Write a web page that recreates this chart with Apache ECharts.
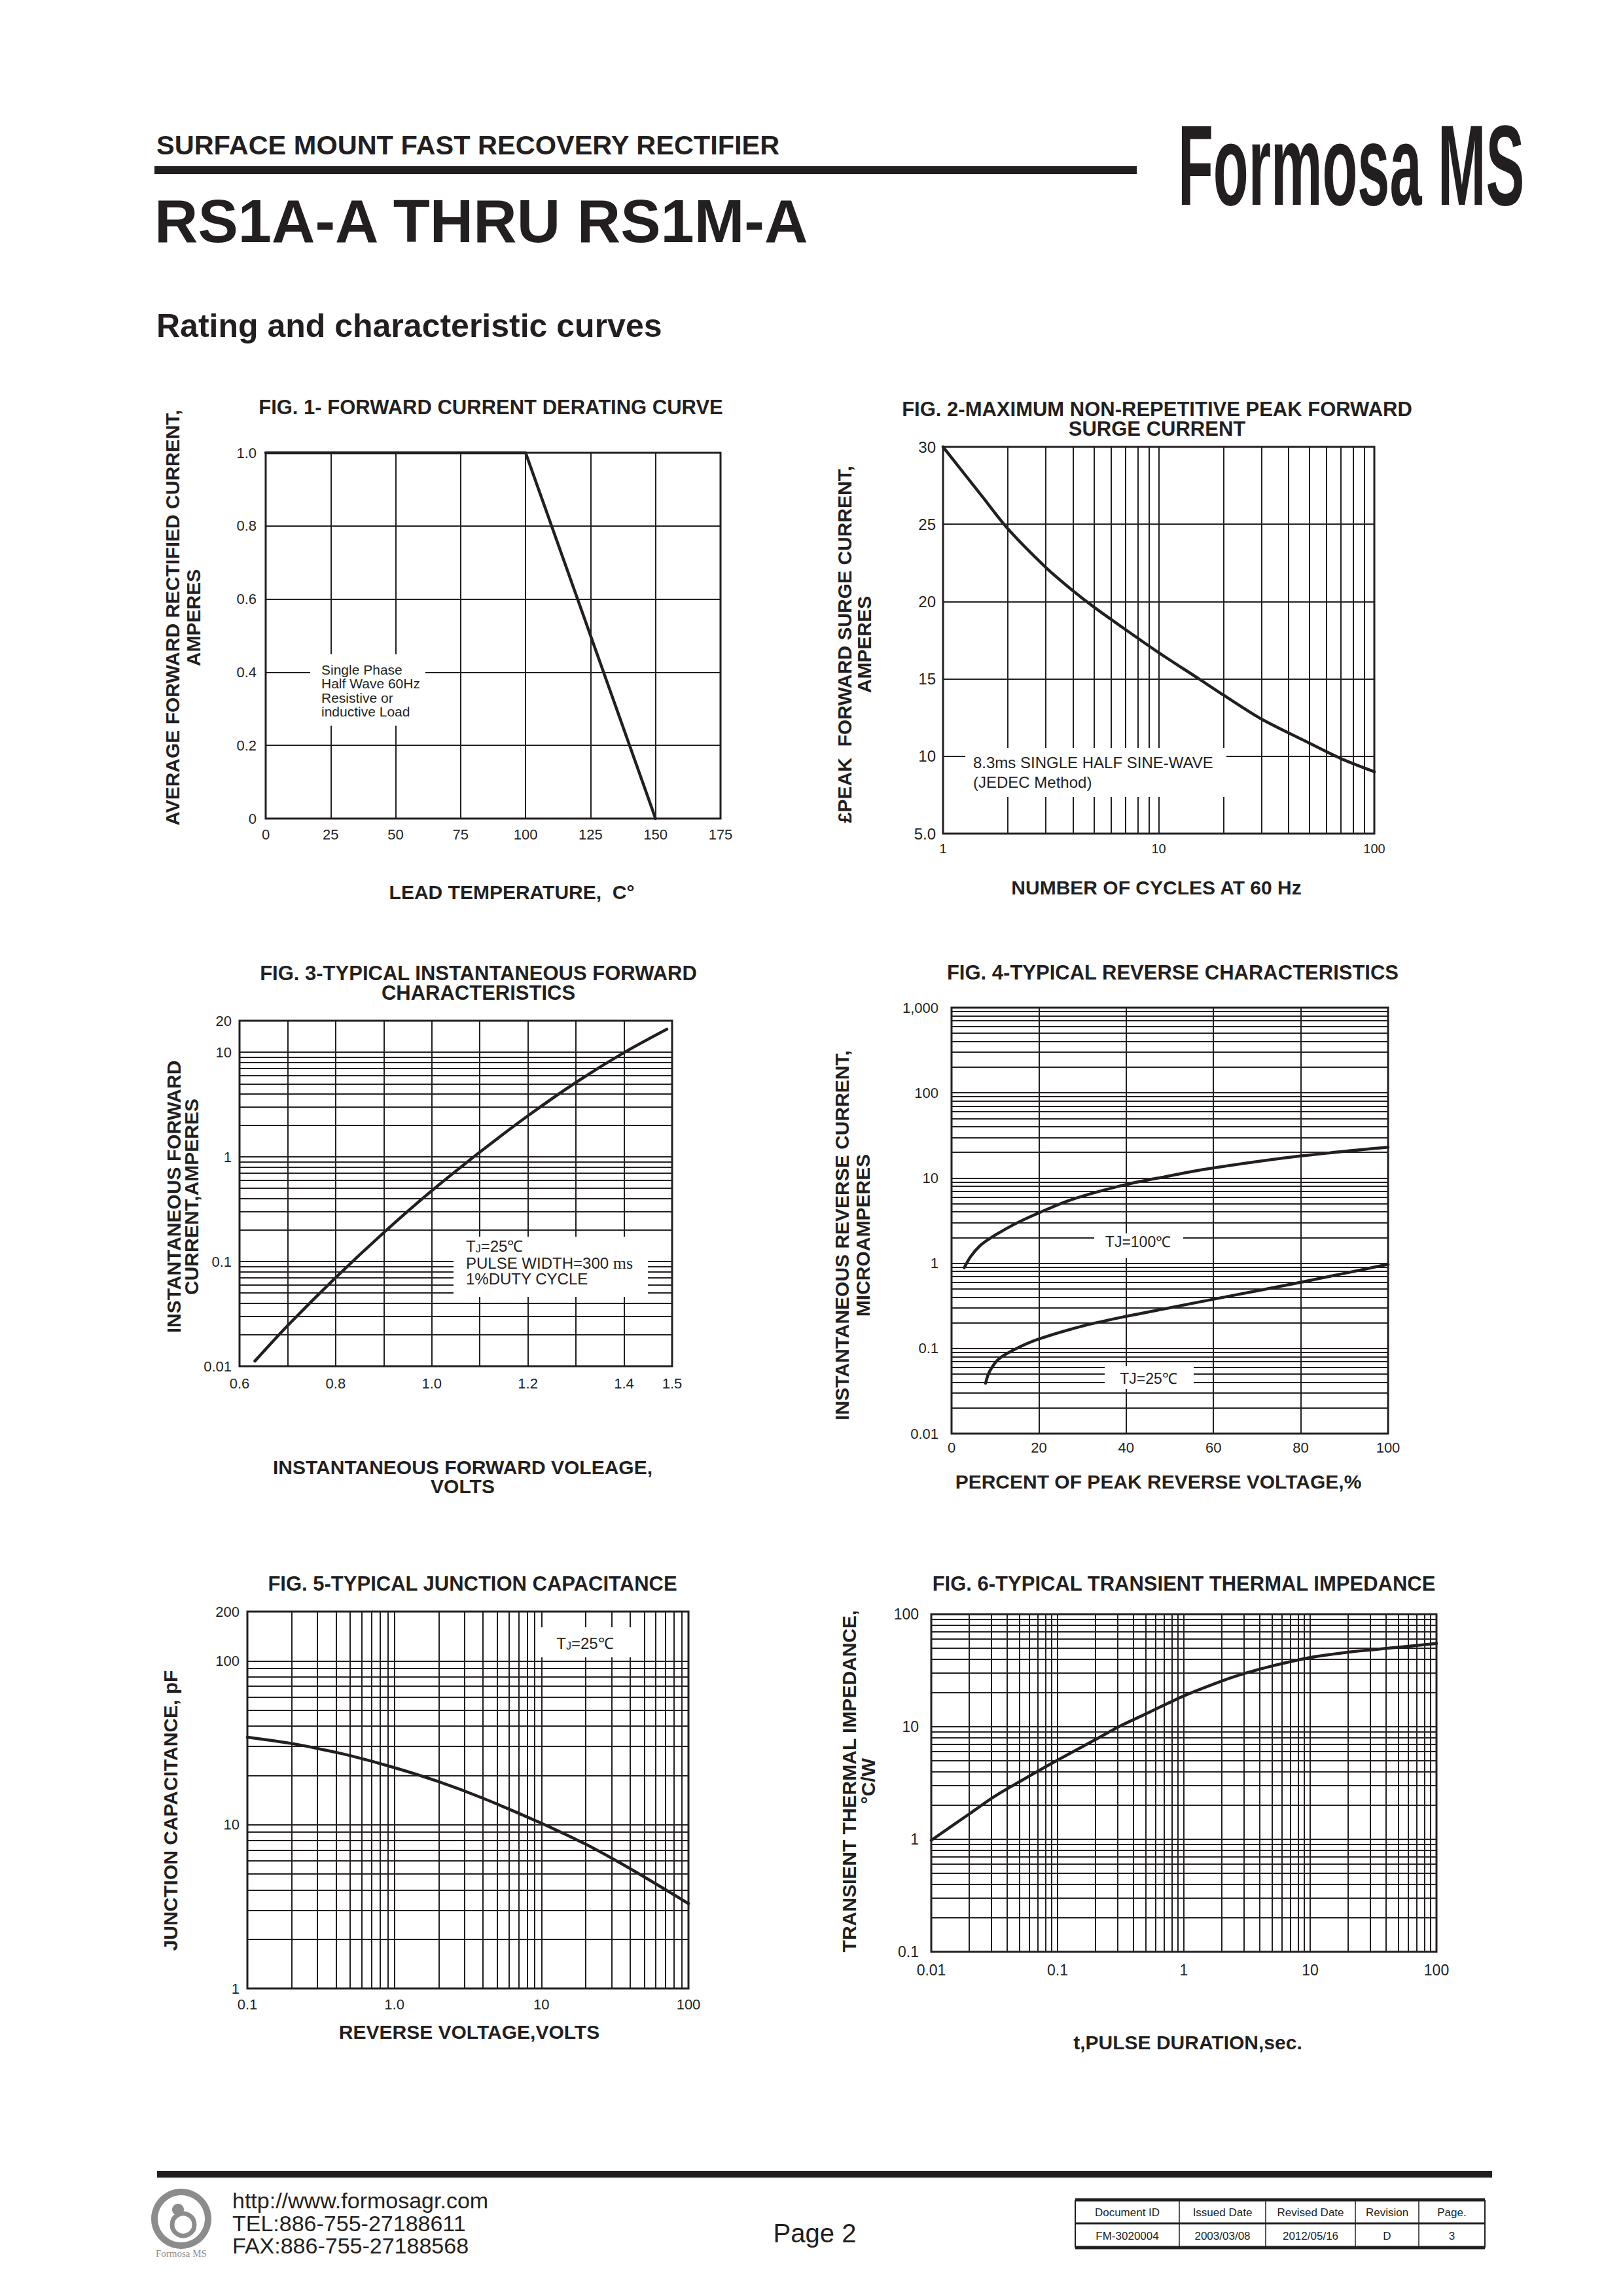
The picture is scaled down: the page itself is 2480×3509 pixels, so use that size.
<!DOCTYPE html>
<html>
<head>
<meta charset="utf-8">
<title>RS1A-A THRU RS1M-A - Rating and characteristic curves</title>
<script src="https://cdn.jsdelivr.net/npm/echarts@6/dist/echarts.min.js"></script>
<style>
html,body{margin:0;padding:0;background:#ffffff;}
#page{width:2480px;height:3509px;}
</style>
</head>
<body>
<div id="page"></div>
<script>
// ---------------- DATA ----------------
// FIG.1 Forward current derating curve
const fig1Temp    = [0, 100, 150];
const fig1Current = [1.0, 1.0, 0.0];
const fig1XTicks  = [0, 25, 50, 75, 100, 125, 150, 175];
const fig1YTicks  = ['0', '0.2', '0.4', '0.6', '0.8', '1.0'];

// FIG.2 Max non-repetitive peak forward surge current
const fig2Cycles = [1, 1.5, 2, 3, 4, 5, 7, 10, 15, 20, 30, 50, 70, 100];
const fig2Surge  = [30, 26.9, 24.7, 22.2, 20.7, 19.65, 18.2, 16.7, 15.1, 13.95, 12.4, 10.85, 9.85, 9.0];
const fig2YTicks = ['5.0', '10', '15', '20', '25', '30'];

// FIG.3 Typical instantaneous forward characteristics
const fig3Volts = [0.632, 0.70, 0.80, 0.90, 1.00, 1.10, 1.20, 1.30, 1.40, 1.489];
const fig3Amps  = [0.0112, 0.0244, 0.0703, 0.189, 0.475, 1.11, 2.47, 5.15, 9.93, 16.6];
const fig3XLabels = ['0.6', '0.8', '1.0', '1.2', '1.4', '1.5'];

// FIG.4 Typical reverse characteristics
const fig4Pct100 = [2.9, 4.4, 6.5, 9.1, 14.3, 19.8, 27.4, 39.6, 49.1, 59, 78.9, 100];
const fig4Ir100  = [0.885, 1.2, 1.6, 2.0, 2.85, 3.86, 5.56, 8.3, 10.4, 12.9, 17.9, 23];
const fig4Pct25  = [7.8, 8.7, 10.9, 15, 20, 30, 40, 50, 60, 70, 80, 100];
const fig4Ir25   = [0.039, 0.0535, 0.0757, 0.1005, 0.129, 0.183, 0.238, 0.30, 0.378, 0.475, 0.598, 0.97];

// FIG.5 Typical junction capacitance
const fig5Volts = [0.1, 0.2, 0.3, 0.5, 1, 2, 4, 10, 20, 30, 50, 100];
const fig5Cap   = [34.2, 31.3, 29.2, 26.4, 22.3, 18.3, 14.5, 10.2, 7.6, 6.25, 4.8, 3.3];
const fig5XLabels = ['0.1', '1.0', '10', '100'];

// FIG.6 Typical transient thermal impedance
const fig6Time = [0.01, 0.02, 0.0316, 0.05, 0.1, 0.2, 0.316, 0.5, 1, 2, 3.16, 5, 10, 20, 31.6, 50, 100];
const fig6Z    = [0.98, 1.68, 2.4, 3.25, 5.05, 7.7, 10.2, 13.0, 18.8, 25.5, 30.2, 34.7, 41.2, 46.0, 48.4, 50.9, 55.0];

// ---------------- STYLE ----------------
const INK = '#231f20';
const FONT = "'Liberation Sans', Arial, Helvetica, sans-serif";
const SERIF = "'Liberation Serif', 'Times New Roman', serif";

// log-paper minor grid positions (2..9 x 10^e)
function minorLog(e0, e1) {
  const out = [];
  for (let e = e0; e < e1; e++) for (let m = 2; m <= 9; m++) out.push(+(m * Math.pow(10, e)).toPrecision(6));
  return out;
}

const gridRects = [
  {left: 406,  top: 692,  width: 695, height: 559},
  {left: 1441, top: 683,  width: 659, height: 591},
  {left: 366,  top: 1560, width: 661, height: 528},
  {left: 1454, top: 1540, width: 667, height: 651},
  {left: 378,  top: 2463, width: 674, height: 576},
  {left: 1423, top: 2467, width: 772, height: 516}
];

function axis(o) {
  const a = {
    gridIndex: o.g, type: o.type || 'value', min: o.min, max: o.max,
    axisLine: {show: false}, axisTick: {show: false},
    splitLine: {show: true, lineStyle: {color: INK, width: 2, type: 'solid'}},
    minorTick: {show: false}, minorSplitLine: {show: false},
    axisLabel: {show: true, color: INK, fontFamily: FONT, fontSize: o.fs || 22, margin: o.margin,
                showMinLabel: true, showMaxLabel: true, interval: 0}
  };
  if (o.type === 'log') a.logBase = 10;
  if (o.interval != null) a.interval = o.interval;
  if (o.fmt) a.axisLabel.formatter = o.fmt;
  return a;
}

function gridLines(xs, ys) {
  return {
    silent: true, symbol: ['none', 'none'], animation: false,
    label: {show: false}, emphasis: {disabled: true},
    lineStyle: {color: INK, width: 2, type: 'solid', opacity: 1},
    data: xs.map(v => ({xAxis: v})).concat(ys.map(v => ({yAxis: v})))
  };
}

function curve(g, xs, ys, smooth, ml) {
  const s = {
    type: 'line', xAxisIndex: g, yAxisIndex: g,
    data: xs.map((x, i) => [x, ys[i]]),
    symbol: 'none', showSymbol: false, smooth: smooth,
    clip: false, silent: true, z: 5,
    lineStyle: {color: INK, width: 4.5, cap: 'round', join: 'round'}
  };
  if (ml) s.markLine = ml;
  return s;
}

// ---------------- GRAPHIC TEXT / SHAPES ----------------
const G = [];
function T(x, y, text, o) {
  o = o || {};
  const st = {text: text, fill: o.fill || INK, fontFamily: o.ff || FONT, fontSize: o.fs || 30,
              fontWeight: o.fw || 'normal', align: o.align || 'left', verticalAlign: 'middle'};
  if (o.lh) st.lineHeight = o.lh;
  if (o.rich) st.rich = o.rich;
  const el = {type: 'text', x: x, y: y, z: 101, silent: true, style: st};
  if (o.rot) el.rotation = o.rot;
  if (o.sx) el.scaleX = o.sx;
  G.push(el);
}
function R(x, y, w, h, fill, o) {
  o = o || {};
  const st = {fill: fill};
  if (o.stroke) { st.stroke = o.stroke; st.lineWidth = o.lw || 1; }
  G.push({type: 'rect', z: o.z || 100, silent: true, shape: {x: x, y: y, width: w, height: h}, style: st});
}
function L(x1, y1, x2, y2, w) {
  G.push({type: 'line', z: 102, silent: true, shape: {x1: x1, y1: y1, x2: x2, y2: y2}, style: {stroke: INK, lineWidth: w}});
}
const ROT = Math.PI / 2;
const tjRich = function (fs) {
  return {
    a: {fontSize: fs, fontFamily: FONT, fill: INK, verticalAlign: 'bottom'},
    b: {fontSize: Math.round(fs * 0.66), fontFamily: FONT, fill: INK, verticalAlign: 'bottom'}
  };
};

// Header
T(239, 221, 'SURFACE MOUNT FAST RECOVERY RECTIFIER', {fs: 41.5, fw: 'bold'});
R(236, 254, 1501, 12, INK);
T(236, 338, 'RS1A-A THRU RS1M-A', {fs: 92, fw: 'bold'});
T(1800, 252, 'Formosa MS', {fs: 175, fw: 'bold', sx: 0.504});
T(239, 498, 'Rating and characteristic curves', {fs: 50, fw: 'bold'});

// Figure titles
T(750, 622, 'FIG. 1- FORWARD CURRENT DERATING CURVE', {fs: 31, fw: 'bold', align: 'center'});
T(1768, 640, 'FIG. 2-MAXIMUM NON-REPETITIVE PEAK FORWARD\nSURGE CURRENT', {fs: 31, fw: 'bold', align: 'center', lh: 30});
T(731, 1502, 'FIG. 3-TYPICAL INSTANTANEOUS FORWARD\nCHARACTERISTICS', {fs: 31, fw: 'bold', align: 'center', lh: 30});
T(1792, 1486, 'FIG. 4-TYPICAL REVERSE CHARACTERISTICS', {fs: 31, fw: 'bold', align: 'center'});
T(722, 2420, 'FIG. 5-TYPICAL JUNCTION CAPACITANCE', {fs: 31, fw: 'bold', align: 'center'});
T(1809, 2420, 'FIG. 6-TYPICAL TRANSIENT THERMAL IMPEDANCE', {fs: 31, fw: 'bold', align: 'center'});

// X axis names
T(782, 1363, 'LEAD TEMPERATURE,  C\u00b0', {fs: 30, fw: 'bold', align: 'center'});
T(1767, 1356, 'NUMBER OF CYCLES AT 60 Hz', {fs: 30, fw: 'bold', align: 'center'});
T(707, 2257, 'INSTANTANEOUS FORWARD VOLEAGE,\nVOLTS', {fs: 30, fw: 'bold', align: 'center', lh: 29});
T(1770, 2264, 'PERCENT OF PEAK REVERSE VOLTAGE,%', {fs: 30, fw: 'bold', align: 'center'});
T(717, 3105, 'REVERSE VOLTAGE,VOLTS', {fs: 30, fw: 'bold', align: 'center'});
T(1815, 3121, 't,PULSE DURATION,sec.', {fs: 30, fw: 'bold', align: 'center'});

// Y axis names (rotated)
T(279, 944, 'AVERAGE FORWARD RECTIFIED CURRENT,\nAMPERES', {fs: 30, fw: 'bold', align: 'center', lh: 32, rot: ROT});
T(1305, 985, '\u00a3PEAK  FORWARD SURGE CURRENT,\nAMPERES', {fs: 30, fw: 'bold', align: 'center', lh: 30, rot: ROT});
T(279, 1829, 'INSTANTANEOUS FORWARD\nCURRENT,AMPERES', {fs: 30, fw: 'bold', align: 'center', lh: 27, rot: ROT});
T(1302, 1888, 'INSTANTANEOUS REVERSE CURRENT,\nMICROAMPERES', {fs: 30, fw: 'bold', align: 'center', lh: 32, rot: ROT});
T(260, 2767, 'JUNCTION CAPACITANCE, pF', {fs: 30, fw: 'bold', align: 'center', rot: ROT});
T(1312, 2722, 'TRANSIENT THERMAL IMPEDANCE,\n\u00b0C/W', {fs: 30, fw: 'bold', align: 'center', lh: 29, rot: ROT});

// Annotations (white boxes masking the grid)
R(474, 1000, 176, 109, '#ffffff');
T(491, 1023, 'Single Phase', {fs: 21});
T(491, 1044, 'Half Wave 60Hz', {fs: 21});
T(491, 1066, 'Resistive or', {fs: 21});
T(491, 1087, 'inductive Load', {fs: 21});

R(1475, 1143, 399, 75, '#ffffff');
T(1487, 1165, '8.3ms SINGLE HALF SINE-WAVE', {fs: 24});
T(1487, 1195, '(JEDEC Method)', {fs: 24});

R(693, 1890, 297, 92, '#ffffff');
T(712, 1904, '{a|T}{b|J}{a|=25\u2103}', {fs: 24, rich: tjRich(24)});
T(712, 1930, '{a|PULSE WIDTH=300 }{c|ms}', {fs: 24, rich: {
  a: {fontSize: 24, fontFamily: FONT, fill: INK},
  c: {fontSize: 26, fontFamily: SERIF, fill: INK}}});
T(712, 1954, '1%DUTY CYCLE', {fs: 24});

R(1672, 1885, 136, 38, '#ffffff');
T(1739, 1898, 'TJ=100\u2103', {fs: 23, align: 'center'});
R(1688, 2088, 136, 35, '#ffffff');
T(1755, 2107, 'TJ=25\u2103', {fs: 23, align: 'center'});

R(819, 2487, 150, 46, '#ffffff');
T(894, 2511, '{a|T}{b|J}{a|=25\u2103}', {fs: 24, align: 'center', rich: tjRich(24)});

// Footer
R(240, 3318, 2040, 10, INK);
G.push({type: 'circle', z: 100, silent: true, shape: {cx: 277, cy: 3391, r: 41}, style: {fill: 'none', stroke: '#8c8c8c', lineWidth: 10}});
G.push({type: 'circle', z: 100, silent: true, shape: {cx: 280, cy: 3400, r: 17}, style: {fill: 'none', stroke: '#8c8c8c', lineWidth: 7}});
G.push({type: 'circle', z: 100, silent: true, shape: {cx: 272, cy: 3377, r: 9}, style: {fill: '#8c8c8c'}});
T(277, 3444, 'Formosa MS', {fs: 15, ff: SERIF, fill: '#8c8c8c', align: 'center'});
T(355, 3363, 'http://www.formosagr.com', {fs: 34});
T(355, 3398, 'TEL:886-755-27188611', {fs: 34});
T(355, 3432, 'FAX:886-755-27188568', {fs: 34});
T(1245, 3413, 'Page 2', {fs: 40, align: 'center'});

// Document table
const tblCols = [1643, 1802, 1934, 2071, 2168, 2269];
const tblHead = ['Document ID', 'Issued Date', 'Revised Date', 'Revision', 'Page.'];
const tblVals = ['FM-3020004', '2003/03/08', '2012/05/16', 'D', '3'];
L(1643, 3362, 2269, 3362, 5);
L(1643, 3435, 2269, 3435, 5);
L(1643, 3398, 2269, 3398, 3);
L(1643, 3362, 1643, 3435, 2);
L(2269, 3362, 2269, 3435, 2);
for (let i = 1; i < tblCols.length - 1; i++) L(tblCols[i], 3362, tblCols[i], 3435, 1.5);
for (let i = 0; i < tblHead.length; i++) {
  const cx = (tblCols[i] + tblCols[i + 1]) / 2;
  T(cx, 3381, tblHead[i], {fs: 17, align: 'center'});
  T(cx, 3417, tblVals[i], {fs: 17, align: 'center'});
}

// ---------------- CHART OPTION ----------------
const option = {
  animation: false,
  backgroundColor: '#ffffff',
  textStyle: {fontFamily: FONT, color: INK},
  grid: gridRects.map(r => Object.assign({
    show: true, borderColor: INK, borderWidth: 3, backgroundColor: 'transparent',
    containLabel: false, outerBoundsMode: 'none'
  }, r)),
  xAxis: [
    axis({g: 0, min: 0, max: 175, interval: 25, margin: 13, fmt: v => String(fig1XTicks[Math.round(v / 25)])}),
    axis({g: 1, type: 'log', min: 1, max: 100, margin: 13, fs: 20}),
    axis({g: 2, min: 0.6, max: 1.5, interval: 0.1, margin: 15, fmt: v => {
      const s = (Math.round(v * 10) / 10).toFixed(1);
      return fig3XLabels.indexOf(s) >= 0 ? s : '';
    }}),
    axis({g: 3, min: 0, max: 100, interval: 20, margin: 10}),
    axis({g: 4, type: 'log', min: 0.1, max: 100, margin: 13, fmt: v => {
      const i = Math.round(Math.log10(v)) + 1; return fig5XLabels[i] != null ? fig5XLabels[i] : String(v);
    }}),
    axis({g: 5, type: 'log', min: 0.01, max: 100, margin: 16, fs: 23})
  ],
  yAxis: [
    axis({g: 0, min: 0, max: 1, interval: 0.2, margin: 14, fmt: v => fig1YTicks[Math.round(v / 0.2)]}),
    axis({g: 1, min: 5, max: 30, interval: 5, margin: 11, fs: 24, fmt: v => fig2YTicks[Math.round(v / 5) - 1]}),
    axis({g: 2, type: 'log', min: 0.01, max: 20, margin: 12}),
    axis({g: 3, type: 'log', min: 0.01, max: 1000, margin: 20, fmt: v => v >= 1000 ? '1,000' : String(v)}),
    axis({g: 4, type: 'log', min: 1, max: 200, margin: 12}),
    axis({g: 5, type: 'log', min: 0.1, max: 100, margin: 19, fs: 23})
  ],
  series: [
    curve(0, fig1Temp, fig1Current, false, null),
    curve(1, fig2Cycles, fig2Surge, 0.3, gridLines(minorLog(0, 2), [])),
    curve(2, fig3Volts, fig3Amps, 0.3, gridLines([], minorLog(-2, 1))),
    curve(3, fig4Pct100, fig4Ir100, 0.3, gridLines([], minorLog(-2, 3))),
    curve(3, fig4Pct25, fig4Ir25, 0.3, null),
    curve(4, fig5Volts, fig5Cap, 0.3, gridLines(minorLog(-1, 2), minorLog(0, 2))),
    curve(5, fig6Time, fig6Z, 0.3, gridLines(minorLog(-2, 2), minorLog(-1, 2)))
  ],
  graphic: {elements: G}
};

const chart = echarts.init(document.getElementById('page'), null, {renderer: 'svg', width: 2480, height: 3509});
chart.setOption(option);
</script>
</body>
</html>
